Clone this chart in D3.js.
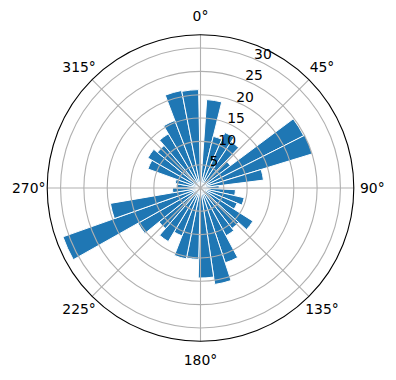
<html>
<head>
<script src="https://d3js.org/d3.v7.min.js"></script>
<style>
  body { margin: 0; background: #fff; }
  text { font-family: "DejaVu Sans", sans-serif; font-size: 13.9px; fill: #000; }
</style>
</head>
<body>
<svg id="rose" width="396" height="380"></svg>
<script>
// histogram of directions: 36 bins between the smallest and largest direction
const dirMin = 4.0;
const dirMax = 358.9;
const counts = [19.0, 11.4, 13.0, 11.9, 8.0, 24.8, 25.1, 13.6, 4.0, 7.5,
                9.6, 8.5, 13.3, 11.0, 11.6, 16.9, 20.9, 19.3, 15.3, 15.5,
                11.0, 13.4, 11.5, 15.4, 31.3, 19.6, 6.0, 5.2, 5.5, 12.0,
                13.0, 12.0, 13.5, 15.5, 21.3, 21.1];
const thetaTicks = [0, 45, 90, 135, 180, 225, 270, 315];
const rTicks = [5, 10, 15, 20, 25, 30];

const svg = d3.select("svg#rose");
const cx = 200.5, cy = 188, R = 153.3;
const rad = Math.PI / 180;

const binWidth = (dirMax - dirMin) / counts.length;
const bins = counts.map((c, i) => ({
    start: dirMin + i * binWidth,
    end: dirMin + (i + 1) * binWidth,
    value: c
}));

const rScale = d3.scaleLinear()
    .domain([0, d3.max(counts) * 1.05])
    .range([0, R]);

const chart = svg.append("g").attr("transform", `translate(${cx},${cy})`);

// bars
const arc = d3.arc()
    .innerRadius(0)
    .outerRadius(d => rScale(d.value))
    .startAngle(d => d.start * rad)
    .endAngle(d => d.end * rad);

chart.selectAll("path.bar")
    .data(bins)
    .join("path")
    .attr("class", "bar")
    .attr("d", arc)
    .attr("fill", "#1f77b4")
    .attr("stroke", "#fff")
    .attr("stroke-width", 1);

// gridlines
let grid = chart.append("g").attr("class", "gridlines");
grid.selectAll("circle")
    .data(rTicks)
    .join("circle")
    .attr("r", d => rScale(d))
    .attr("fill", "none")
    .attr("stroke", "#b0b0b0")
    .attr("stroke-width", 1.1);

grid.selectAll("line")
    .data(thetaTicks)
    .join("line")
    .attr("x1", 0).attr("y1", 0)
    .attr("x2", d => R * Math.sin(d * rad))
    .attr("y2", d => -R * Math.cos(d * rad))
    .attr("stroke", "#b0b0b0")
    .attr("stroke-width", 1.1);

// outer spine
chart.append("circle")
    .attr("r", R)
    .attr("fill", "none")
    .attr("stroke", "#000")
    .attr("stroke-width", 1.1);

// radial labels along 22.5 degrees
const rLabelAngle = 22.5 * rad;
chart.selectAll("text.rlabel")
    .data(rTicks)
    .join("text")
    .attr("class", "rlabel")
    .attr("x", d => rScale(d) * Math.sin(rLabelAngle))
    .attr("y", d => -rScale(d) * Math.cos(rLabelAngle))
    .attr("text-anchor", "start")
    .text(d => d);

// angle labels
const labelR = R + 18.5;
chart.selectAll("text.tlabel")
    .data(thetaTicks)
    .join("text")
    .attr("class", "tlabel")
    .attr("x", d => labelR * Math.sin(d * rad))
    .attr("y", d => -labelR * Math.cos(d * rad))
    .attr("text-anchor", "middle")
    .attr("dominant-baseline", "central")
    .text(d => d + "°");
</script>
</body>
</html>
